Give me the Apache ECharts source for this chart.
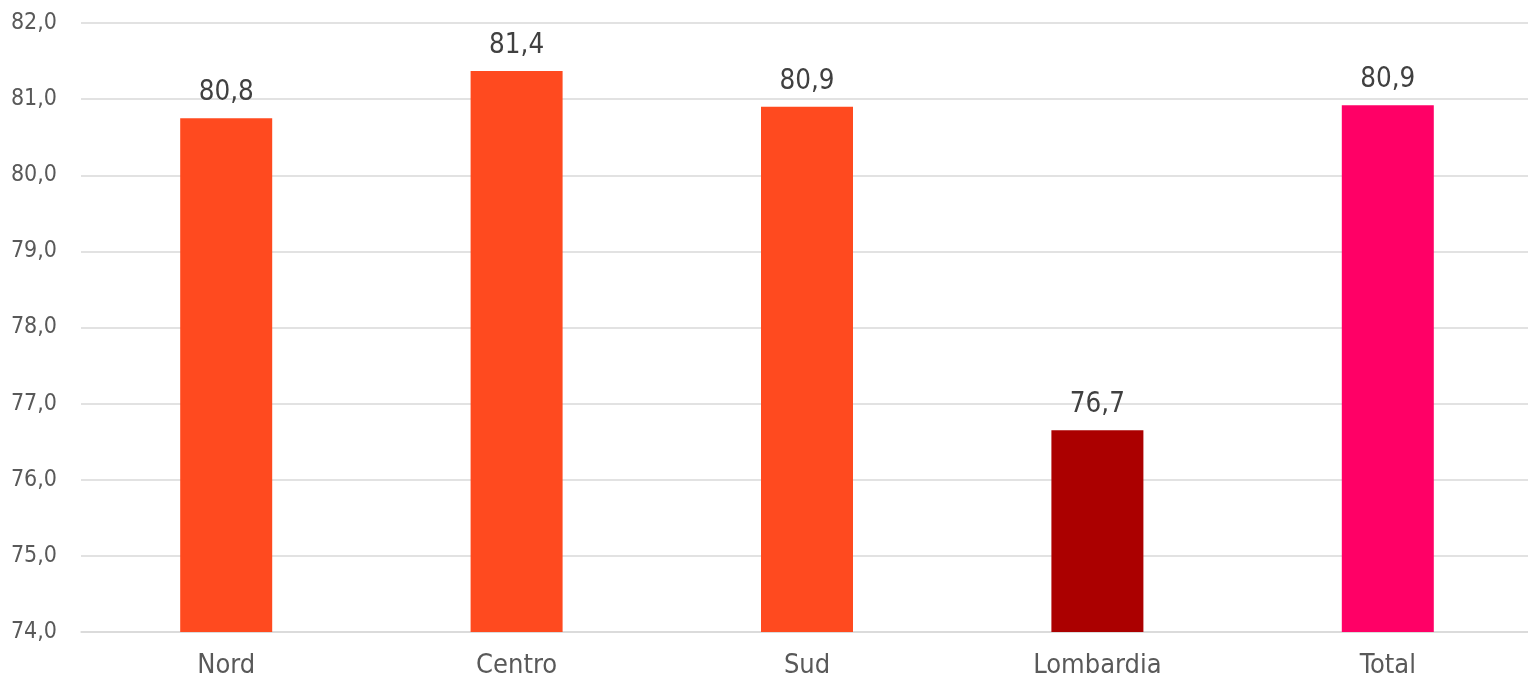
<!DOCTYPE html>
<html><head><meta charset="utf-8">
<script src="https://cdn.jsdelivr.net/npm/echarts@6/dist/echarts.min.js"></script>
<style>html,body{margin:0;padding:0;background:#fff;overflow:hidden;width:1528px;height:681px}#c{width:1540px;height:681px}</style>
</head><body><div id="c"></div>
<script>
const categories = ["Nord", "Centro", "Sud", "Lombardia", "Total"];
const values = [80.75, 81.37, 80.9, 76.65, 80.92];
const barColors = ["#FF4A1F", "#FF4A1F", "#FF4A1F", "#AB0000", "#FF0066"];
const yMin = 74, yMax = 82, yStep = 1;

const FONT = '"DejaVu Sans Condensed", "DejaVu Sans", sans-serif';
const fmt = v => Number(v).toFixed(1).replace('.', ',');

const chart = echarts.init(document.getElementById('c'));
chart.setOption({
  animation: false,
  grid: { left: 81, top: 23, right: 7, height: 609, containLabel: false },
  xAxis: {
    type: 'category', data: categories,
    axisLine: { lineStyle: { color: '#d9d9d9', width: 1.5 } },
    axisTick: { show: false },
    axisLabel: { color: '#595959', fontSize: 27, fontFamily: FONT, margin: 20 }
  },
  yAxis: {
    type: 'value', min: yMin, max: yMax, interval: yStep,
    axisLine: { show: false }, axisTick: { show: false },
    splitLine: { lineStyle: { color: '#d9d9d9', width: 1.5 } },
    axisLabel: { color: '#595959', fontSize: 23, fontFamily: FONT, margin: 24, formatter: fmt }
  },
  series: [{
    type: 'bar', barWidth: 92,
    data: values.map((v, i) => ({ value: v, itemStyle: { color: barColors[i] } })),
    label: { show: true, position: 'top', distance: 11, color: '#404040', fontSize: 27.5, fontFamily: FONT,
      formatter: p => fmt(p.value) }
  }]
});
</script></body></html>
